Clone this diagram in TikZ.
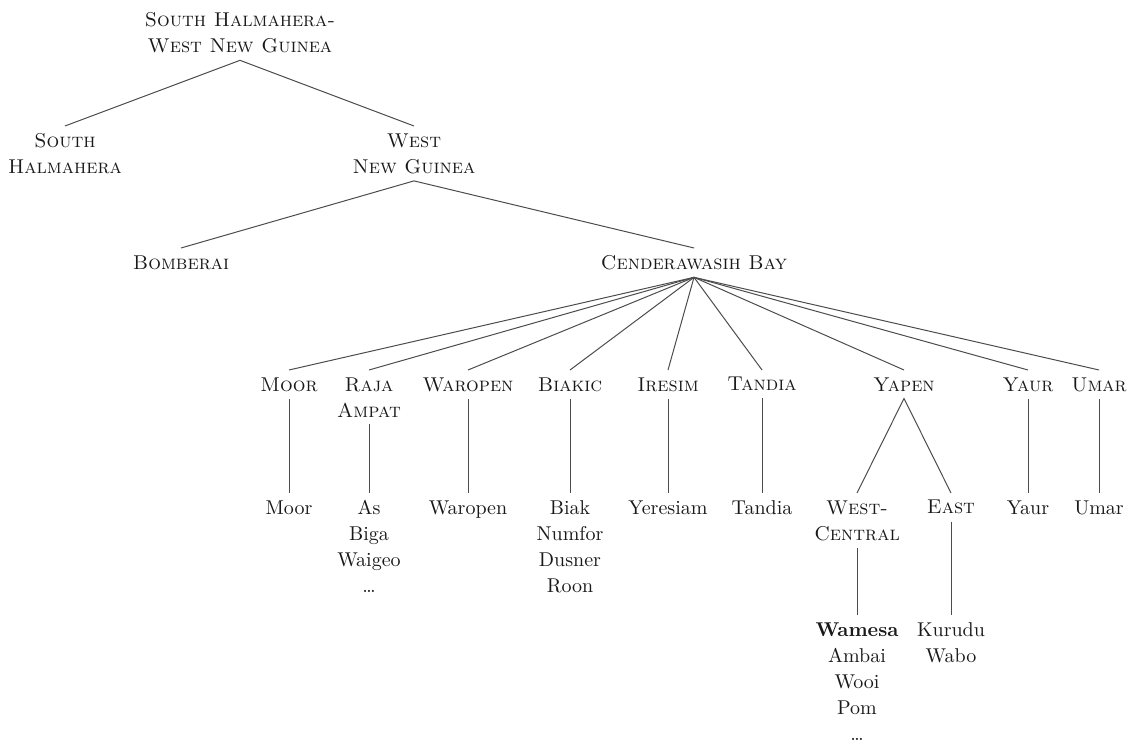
\documentclass[tikz,border=0pt]{standalone}
\usepackage{tikz}
\usetikzlibrary{positioning}

\begin{document}
\begin{tikzpicture}[
    x=0.5pt, y=-0.5pt,
    groupnode/.style={anchor=north, align=center, inner sep=3.5pt, text=black!90, font=\fontsize{10}{13}\selectfont\scshape},
    langnode/.style={anchor=north, align=center, inner sep=3.5pt, text=black!90, font=\fontsize{10}{13}\selectfont},
    branch/.style={draw=black!70, line width=0.5pt}
]
    \useasboundingbox (0, 0) rectangle (1133, 747);

    \node[groupnode] (shwng) at (240, 5) {South Halmahera-\\West New Guinea};
    \node[groupnode] (sh) at (65, 126) {South\\Halmahera};
    \node[groupnode] (wng) at (414, 126) {West\\New Guinea};
    \node[groupnode] (bomb) at (181, 248) {Bomberai};
    \node[groupnode] (cb) at (694, 248) {Cenderawasih Bay};

    \node[groupnode] (moor) at (289, 370) {Moor};
    \node[groupnode] (raja) at (369, 370) {Raja\\Ampat};
    \node[groupnode] (waro) at (468, 370) {Waropen};
    \node[groupnode] (biak) at (570, 370) {Biakic};
    \node[groupnode] (ires) at (668, 370) {Iresim};
    \node[groupnode] (tand) at (762, 370) {Tandia};
    \node[groupnode] (yapen) at (904, 370) {Yapen};
    \node[groupnode] (yaur) at (1028, 370) {Yaur};
    \node[groupnode] (umar) at (1099, 370) {Umar};

    \node[langnode] (moorl) at (289, 493) {Moor};
    \node[langnode] (rajal) at (369, 493) {As\\Biga\\Waigeo\\\dots};
    \node[langnode] (warol) at (468, 493) {Waropen};
    \node[langnode] (biakl) at (570, 493) {Biak\\Numfor\\Dusner\\Roon};
    \node[langnode] (iresl) at (668, 493) {Yeresiam};
    \node[langnode] (tandl) at (762, 493) {Tandia};
    \node[groupnode] (wc) at (857, 493) {West-\\Central};
    \node[groupnode] (east) at (951, 493) {East};
    \node[langnode] (yaurl) at (1028, 493) {Yaur};
    \node[langnode] (umarl) at (1099, 493) {Umar};

    \node[langnode] (wcl) at (857, 615) {\textbf{Wamesa}\\Ambai\\Wooi\\Pom\\\dots};
    \node[langnode] (eastl) at (951, 615) {Kurudu\\Wabo};

    \draw[branch] (shwng.south) -- (sh.north); \draw[branch] (shwng.south) -- (wng.north);
    \draw[branch] (wng.south) -- (bomb.north); \draw[branch] (wng.south) -- (cb.north);

    \draw[branch] (cb.south) -- (moor.north); \draw[branch] (cb.south) -- (raja.north); \draw[branch] (cb.south) -- (waro.north);
    \draw[branch] (cb.south) -- (biak.north); \draw[branch] (cb.south) -- (ires.north); \draw[branch] (cb.south) -- (tand.north);
    \draw[branch] (cb.south) -- (yapen.north); \draw[branch] (cb.south) -- (yaur.north); \draw[branch] (cb.south) -- (umar.north);

    \draw[branch] (moor.south) -- (moorl.north); \draw[branch] (raja.south) -- (rajal.north); \draw[branch] (waro.south) -- (warol.north);
    \draw[branch] (biak.south) -- (biakl.north); \draw[branch] (ires.south) -- (iresl.north); \draw[branch] (tand.south) -- (tandl.north);
    \draw[branch] (yapen.south) -- (wc.north); \draw[branch] (yapen.south) -- (east.north);
    \draw[branch] (yaur.south) -- (yaurl.north); \draw[branch] (umar.south) -- (umarl.north);

    \draw[branch] (wc.south) -- (wcl.north); \draw[branch] (east.south) -- (eastl.north);
\end{tikzpicture}
\end{document}
